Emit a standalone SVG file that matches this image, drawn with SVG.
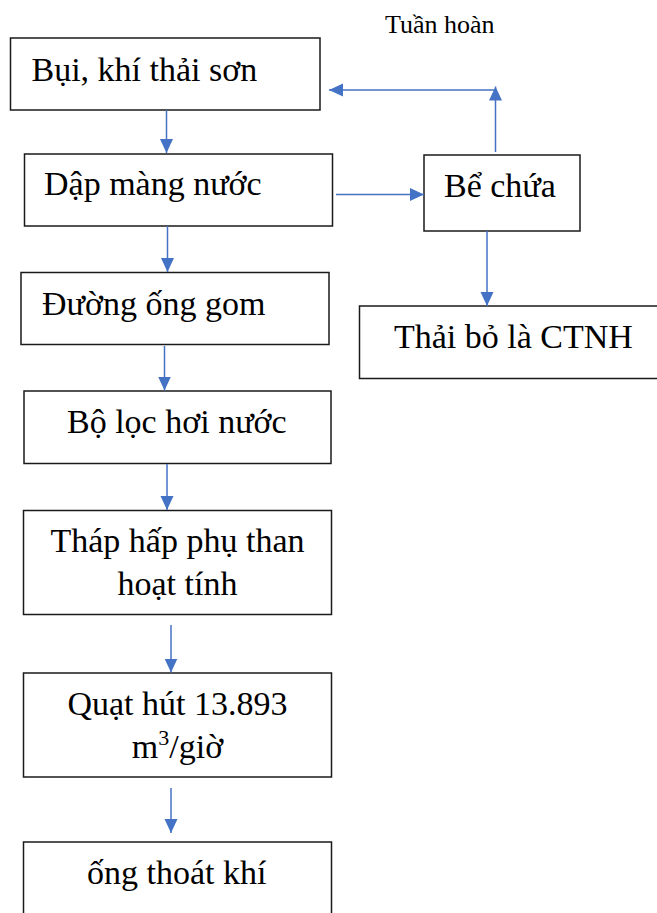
<svg xmlns="http://www.w3.org/2000/svg" width="657" height="913" viewBox="0 0 657 913">
<style>
  .box { fill: #ffffff; stroke: #1a1a1a; stroke-width: 1.5; }
  .t { font-family: "Liberation Serif", "Times New Roman", serif; font-size: 34px; fill: #000000; }
  .lbl { font-family: "Liberation Serif", "Times New Roman", serif; font-size: 26px; fill: #000000; }
  .c { fill: none; stroke: #4472C4; stroke-width: 1.5; marker-end: url(#ah); }
</style>
<defs>
  <marker id="ah" markerUnits="userSpaceOnUse" markerWidth="14" markerHeight="14" viewBox="0 0 14 14" refX="14" refY="7" orient="auto">
    <path d="M0,0.5 L14,7 L0,13.5 Z" fill="#4472C4"/>
  </marker>
</defs>
<rect width="657" height="913" fill="#ffffff"/>

<text id="label-tuanhoan" class="lbl" x="385" y="33">Tuần hoàn</text>

<g id="node-bui">
  <rect class="box" x="10.5" y="38" width="309.5" height="72"/>
  <text class="t" x="31.5" y="81">Bụi, khí thải sơn</text>
</g>
<g id="node-dapmang">
  <rect class="box" x="24.5" y="154" width="308" height="72"/>
  <text class="t" x="44" y="195">Dập màng nước</text>
</g>
<g id="node-duongong">
  <rect class="box" x="21" y="272.5" width="308" height="72"/>
  <text class="t" x="42" y="315">Đường ống gom</text>
</g>
<g id="node-boloc">
  <rect class="box" x="24" y="391" width="307" height="72.5"/>
  <text class="t" x="67" y="433">Bộ lọc hơi nước</text>
</g>
<g id="node-thap">
  <rect class="box" x="23.5" y="510.5" width="308" height="104"/>
  <text class="t" x="177.5" y="552" text-anchor="middle">Tháp hấp phụ than</text>
  <text class="t" x="177.5" y="595" text-anchor="middle">hoạt tính</text>
</g>
<g id="node-quat">
  <rect class="box" x="23.5" y="673" width="308" height="104"/>
  <text class="t" x="177.5" y="715" text-anchor="middle">Quạt hút 13.893</text>
  <text class="t" x="177.5" y="758" text-anchor="middle">m<tspan font-size="22" dy="-13">3</tspan><tspan dy="13">/giờ</tspan></text>
</g>
<g id="node-ongthoat">
  <rect class="box" x="23.5" y="842" width="308" height="80"/>
  <text class="t" x="87" y="884">ống thoát khí</text>
</g>
<g id="node-bechua">
  <rect class="box" x="424" y="155" width="156" height="76"/>
  <text class="t" x="444" y="197">Bể chứa</text>
</g>
<g id="node-thaibo">
  <rect class="box" x="359.5" y="306" width="310" height="72.5"/>
  <text class="t" x="394" y="348">Thải bỏ là CTNH</text>
</g>

<g id="connectors">
  <path class="c" d="M166.5,110 V153"/>
  <path class="c" d="M167.5,226 V272"/>
  <path class="c" d="M164.5,346 V390.5"/>
  <path class="c" d="M167,464 V510"/>
  <path class="c" d="M171,625 V672.5"/>
  <path class="c" d="M171,788 V833"/>
  <path class="c" d="M336,194.5 H424"/>
  <path class="c" d="M487,231 V306"/>
  <path class="c" d="M495.5,152 V86.5"/>
  <path class="c" d="M495.5,90 H329"/>
</g>
</svg>
